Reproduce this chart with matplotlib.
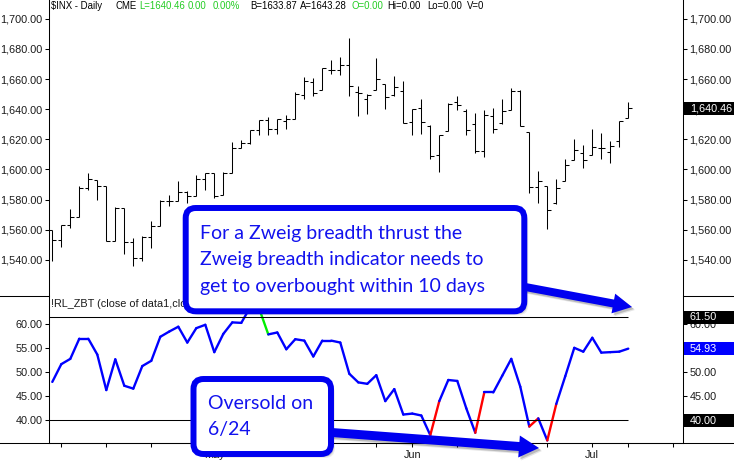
import matplotlib
matplotlib.use("Agg")
import matplotlib.pyplot as plt
from matplotlib.collections import LineCollection
from matplotlib.patches import FancyBboxPatch, FancyArrow, Rectangle
from matplotlib.ticker import FixedLocator, FuncFormatter
import numpy as np
import pandas as pd

# ---- data -------------------------------------------------------------
dates = ["2013-04-05", "2013-04-08", "2013-04-09", "2013-04-10", "2013-04-11", "2013-04-12",
         "2013-04-15", "2013-04-16", "2013-04-17", "2013-04-18", "2013-04-19",
         "2013-04-22", "2013-04-23", "2013-04-24", "2013-04-25", "2013-04-26",
         "2013-04-29", "2013-04-30", "2013-05-01", "2013-05-02", "2013-05-03",
         "2013-05-06", "2013-05-07", "2013-05-08", "2013-05-09", "2013-05-10",
         "2013-05-13", "2013-05-14", "2013-05-15", "2013-05-16", "2013-05-17",
         "2013-05-20", "2013-05-21", "2013-05-22", "2013-05-23", "2013-05-24",
         "2013-05-28", "2013-05-29", "2013-05-30", "2013-05-31",
         "2013-06-03", "2013-06-04", "2013-06-05", "2013-06-06", "2013-06-07",
         "2013-06-10", "2013-06-11", "2013-06-12", "2013-06-13", "2013-06-14",
         "2013-06-17", "2013-06-18", "2013-06-19", "2013-06-20", "2013-06-21",
         "2013-06-24", "2013-06-25", "2013-06-26", "2013-06-27", "2013-06-28",
         "2013-07-01", "2013-07-02", "2013-07-03", "2013-07-05", "2013-07-08"]

opens = [1559.98, 1553.26, 1563.11, 1568.61, 1587.73, 1593.30, 1588.84, 1552.36, 1574.57, 1552.03,
         1541.61, 1555.25, 1562.50, 1578.78, 1578.93, 1585.16, 1582.34, 1593.58, 1597.55, 1582.77,
         1597.60, 1614.40, 1617.55, 1625.95, 1632.69, 1626.69, 1632.10, 1633.75, 1649.13, 1658.07,
         1652.45, 1665.71, 1666.20, 1669.39, 1651.62, 1646.67, 1652.63, 1656.57, 1649.14, 1652.13,
         1631.71, 1640.73, 1629.05, 1609.29, 1625.27, 1644.67, 1638.64, 1629.94, 1612.15, 1635.52,
         1630.64, 1639.77, 1651.83, 1624.62, 1588.62, 1588.77, 1577.52, 1592.27, 1606.44, 1611.12,
         1609.78, 1614.29, 1611.48, 1618.65, 1634.20]
highs = [1559.98, 1563.07, 1573.89, 1589.07, 1597.35, 1593.30, 1588.84, 1575.35, 1574.57, 1554.38,
         1555.89, 1565.55, 1579.58, 1583.00, 1592.64, 1585.78, 1596.65, 1597.57, 1597.55, 1598.60,
         1618.46, 1619.77, 1626.03, 1632.78, 1635.01, 1633.70, 1636.00, 1651.10, 1661.49, 1660.51,
         1667.47, 1672.84, 1674.93, 1687.18, 1655.50, 1649.78, 1674.21, 1656.57, 1661.91, 1658.99,
         1640.42, 1646.53, 1629.31, 1622.56, 1644.40, 1648.69, 1640.13, 1637.71, 1639.25, 1640.80,
         1646.50, 1654.19, 1652.45, 1624.62, 1599.19, 1588.77, 1593.79, 1606.83, 1620.07, 1615.94,
         1626.61, 1624.26, 1618.97, 1632.07, 1644.68]
lows = [1539.50, 1548.63, 1560.92, 1568.61, 1586.48, 1579.97, 1552.28, 1552.36, 1543.69, 1536.03,
        1539.40, 1548.19, 1562.50, 1575.80, 1578.93, 1577.56, 1582.34, 1586.50, 1581.28, 1582.77,
        1597.60, 1614.21, 1616.64, 1622.70, 1623.09, 1623.71, 1626.74, 1633.75, 1646.68, 1648.60,
        1652.45, 1663.52, 1662.67, 1648.86, 1635.53, 1636.88, 1652.63, 1640.05, 1648.61, 1630.74,
        1622.72, 1623.62, 1607.09, 1598.23, 1625.27, 1639.26, 1622.92, 1610.92, 1608.07, 1623.96,
        1630.34, 1639.77, 1628.91, 1584.32, 1577.70, 1560.33, 1577.09, 1592.27, 1606.44, 1601.06,
        1609.78, 1606.77, 1604.57, 1614.71, 1634.20]
closes = [1553.28, 1563.07, 1568.61, 1587.73, 1593.37, 1588.85, 1552.36, 1574.57, 1552.01, 1541.61,
          1555.25, 1562.50, 1578.78, 1578.79, 1585.16, 1582.24, 1593.61, 1597.57, 1582.70, 1597.59,
          1614.42, 1617.50, 1625.96, 1632.69, 1626.67, 1633.70, 1633.77, 1650.34, 1658.78, 1650.47,
          1667.47, 1666.29, 1669.16, 1655.35, 1650.51, 1649.60, 1660.06, 1648.36, 1654.41, 1630.74,
          1640.42, 1631.38, 1608.90, 1622.56, 1643.38, 1642.81, 1626.13, 1612.52, 1636.36, 1626.73,
          1639.04, 1651.81, 1628.93, 1588.19, 1592.43, 1573.09, 1588.03, 1603.26, 1613.20, 1606.28,
          1614.96, 1614.08, 1615.41, 1631.89, 1640.46]

# Zweig breadth indicator, one value per bar
zbt = [48.0, 51.7, 52.8, 57.0, 57.0, 53.7, 46.3, 52.7, 47.2, 46.6,
       51.3, 52.4, 57.4, 58.5, 59.5, 56.2, 59.2, 59.9, 54.2, 58.0,
       60.4, 60.3, 63.6, 63.2, 57.9, 58.3, 54.8, 56.9, 56.6, 53.3,
       56.6, 56.6, 56.2, 49.7, 47.9, 47.6, 49.4, 44.0, 46.5, 41.2,
       41.4, 41.0, 36.9, 44.0, 48.4, 48.2, 42.5, 37.4, 45.8, 45.8,
       49.3, 52.8, 47.0, 38.7, 40.4, 35.8, 43.4, 49.2, 55.1, 54.3,
       57.2, 54.1, 54.2, 54.3, 54.93]

overbought = 61.5
oversold = 40.0
price_ticks = [1540, 1560, 1580, 1600, 1620, 1640, 1660, 1680, 1700]
zbt_ticks = [40, 45, 50, 55, 60]

header = [("$INX - Daily", 51, "black"), ("CME", 115, "black"),
          ("L=1640.46", 139, "#22cc22"), ("0.00", 188, "#22cc22"), ("0.00%", 213, "#22cc22"),
          ("B=1633.87", 250, "black"), ("A=1643.28", 300, "black"), ("O=0.00", 352, "#22cc22"),
          ("Hi=0.00", 387, "black"), ("Lo=0.00", 427, "black"), ("V=0", 467, "black")]
indicator_title = "!RL_ZBT (close of data1,close of data2)"
note_thrust = ["For a Zweig breadth thrust the",
               "Zweig breadth indicator needs to",
               "get to overbought within 10 days"]
note_oversold = ["Oversold on", "6/24"]

# ---- figure -----------------------------------------------------------
W, H = 734, 463
BLUE = "#0000f0"
TXT = "#1a1a1a"
LABEL_FONT = dict(family="Liberation Sans", size=7.8)

fig = plt.figure(figsize=(W / 100, H / 100), dpi=100)
fig.patch.set_facecolor("white")


def px_axes(left, top, right, bottom):
    return fig.add_axes([left / W, 1 - bottom / H, (right - left) / W, (bottom - top) / H])


ax1 = px_axes(49, 0, 683, 296)
ax2 = px_axes(49, 296, 683, 443)

x = np.arange(len(dates))
xlim = (-0.367, 70.08)

# price bars
ax1.vlines(x, lows, highs, color="black", lw=0.75, snap=True)
ax1.hlines(opens, x - 0.38, x, color="black", lw=0.75, snap=True)
ax1.hlines(closes, x, x + 0.38, color="black", lw=0.75, snap=True)
ax1.set_xlim(*xlim)
ax1.set_ylim(1516.1, 1712.4)

# indicator line, red on thrusts up from oversold, green on drops from overbought
z = np.array(zbt)
segs = [[(i, z[i]), (i + 1, z[i + 1])] for i in range(len(z) - 1)]
cols = []
for i in range(len(z) - 1):
    if z[i] < oversold and z[i + 1] > z[i]:
        cols.append("#ff0000")
    elif z[i] > overbought and z[i + 1] < z[i]:
        cols.append("#00ee00")
    else:
        cols.append("#0000ff")
ax2.add_collection(LineCollection(segs, colors=cols, linewidths=1.7, capstyle="round"))
ax2.hlines([overbought, oversold], xlim[0], x[-1], color="black", lw=0.75)
ax2.set_xlim(*xlim)
ax2.set_ylim(35.27, 65.9)

for ax in (ax1, ax2):
    for side in ("left", "right", "bottom", "top"):
        ax.spines[side].set_linewidth(0.75)
        ax.spines[side].set_color("black")
    ax.spines["top"].set_visible(False)
    ax.tick_params(axis="y", which="both", left=True, right=True, labelleft=True,
                   labelright=True, direction="out", length=3.2, width=0.75,
                   pad=1.5, labelsize=LABEL_FONT["size"], labelcolor=TXT)

ax1.spines["bottom"].set_visible(False)
ax1.set_xticks([])
ax1.yaxis.set_major_locator(FixedLocator(price_ticks))
ax1.yaxis.set_major_formatter(FuncFormatter(lambda v, p: f"{v:,.2f}"))
ax2.yaxis.set_major_locator(FixedLocator(zbt_ticks))
ax2.yaxis.set_major_formatter(FuncFormatter(lambda v, p: f"{v:.2f}"))

# x axis: month labels, weekly ticks
d = pd.to_datetime(dates)
wk = d.isocalendar().week.values
week_starts = [i for i in range(1, len(d)) if wk[i] != wk[i - 1]]
week_starts.append(week_starts[-1] + 5)
month_starts = [i for i in range(1, len(d)) if d[i].month != d[i - 1].month]
ax2.set_xticks(month_starts)
ax2.set_xticklabels([d[i].strftime("%b") for i in month_starts])
ax2.set_xticks(week_starts, minor=True)
ax2.tick_params(axis="x", which="both", direction="out", length=3.2, width=0.75,
                pad=2, labelsize=LABEL_FONT["size"], labelcolor=TXT)

for ax in (ax1, ax2):
    for lab in ax.get_yticklabels() + ax.get_xticklabels():
        lab.set_family(LABEL_FONT["family"])

# ---- overlay in pixel coordinates --------------------------------------
ov = fig.add_axes([0, 0, 1, 1], zorder=10)
ov.set_xlim(0, W)
ov.set_ylim(H, 0)
ov.axis("off")
ov.patch.set_alpha(0)


def to_px(ax, value):
    return H - ax.transData.transform((0, value))[1]


ov.plot([0, 49], [296, 296], color="black", lw=0.75)
ov.plot([683, W], [296, 296], color="black", lw=0.75)
ov.plot([0, W], [443, 443], color="black", lw=0.75)

for text, xpos, color in header:
    ov.text(xpos, 6, text, color=color, fontsize=6.9, family="Liberation Sans",
            va="center", ha="left")
ov.text(51, 304, indicator_title, color=TXT, fontsize=7.8, family="Liberation Sans",
        va="center", ha="left", zorder=1)

# value flags on the right axis
flags = [(ax1, closes[-1], f"{closes[-1]:,.2f}", "black"),
         (ax2, overbought, f"{overbought:.2f}", "black"),
         (ax2, zbt[-1], f"{zbt[-1]:.2f}", "#0000ff"),
         (ax2, oversold, f"{oversold:.2f}", "black")]
for ax, val, text, bg in flags:
    yp = to_px(ax, val)
    ov.add_patch(Rectangle((683.5, yp - 6.5), W - 683.5, 13, facecolor=bg, edgecolor="none", zorder=2))
    ov.text(690, yp + 0.3, text, color="white", fontsize=7.8, family="Liberation Sans",
            va="center", ha="left", zorder=3)


def callout(x0, y0, x1, y1, lines, tx, ty, step):
    for k, a in enumerate([0.18, 0.12, 0.07]):
        ov.add_patch(FancyBboxPatch((x0 + 2 + k, y0 + 2 + k), x1 - x0, y1 - y0,
                                    boxstyle="round,pad=0,rounding_size=10",
                                    facecolor="#000000", edgecolor="none", alpha=a, zorder=4))
    ov.add_patch(FancyBboxPatch((x0, y0), x1 - x0, y1 - y0,
                                boxstyle="round,pad=0,rounding_size=10",
                                facecolor="white", edgecolor=BLUE, lw=4.3, zorder=5))
    for k, line in enumerate(lines):
        ov.text(tx, ty + k * step, line, color="#1212ee", fontsize=14, family="Lato",
                va="center", ha="left", zorder=6)


def arrow(xs, ys, xe, ye, w, hw, hl):
    for k, a in enumerate([0.18, 0.1]):
        ov.add_patch(FancyArrow(xs + 2 + k, ys + 2 + k, xe - xs, ye - ys, width=w,
                                head_width=hw, head_length=hl, length_includes_head=True,
                                facecolor="black", edgecolor="none", alpha=a, zorder=4))
    ov.add_patch(FancyArrow(xs, ys, xe - xs, ye - ys, width=w, head_width=hw, head_length=hl,
                            length_includes_head=True, facecolor=BLUE, edgecolor="none", zorder=5))


arrow(520, 286, 632, 307, 8, 20, 19)
callout(185.7, 208, 524.3, 311.3, note_thrust, 200.5, 233.5, 26.3)
arrow(325, 432, 539, 448, 9, 22, 20)
callout(193.5, 379, 331, 454, note_oversold, 208, 403.5, 26.5)

fig.savefig("out.png", dpi=100, facecolor="white")
